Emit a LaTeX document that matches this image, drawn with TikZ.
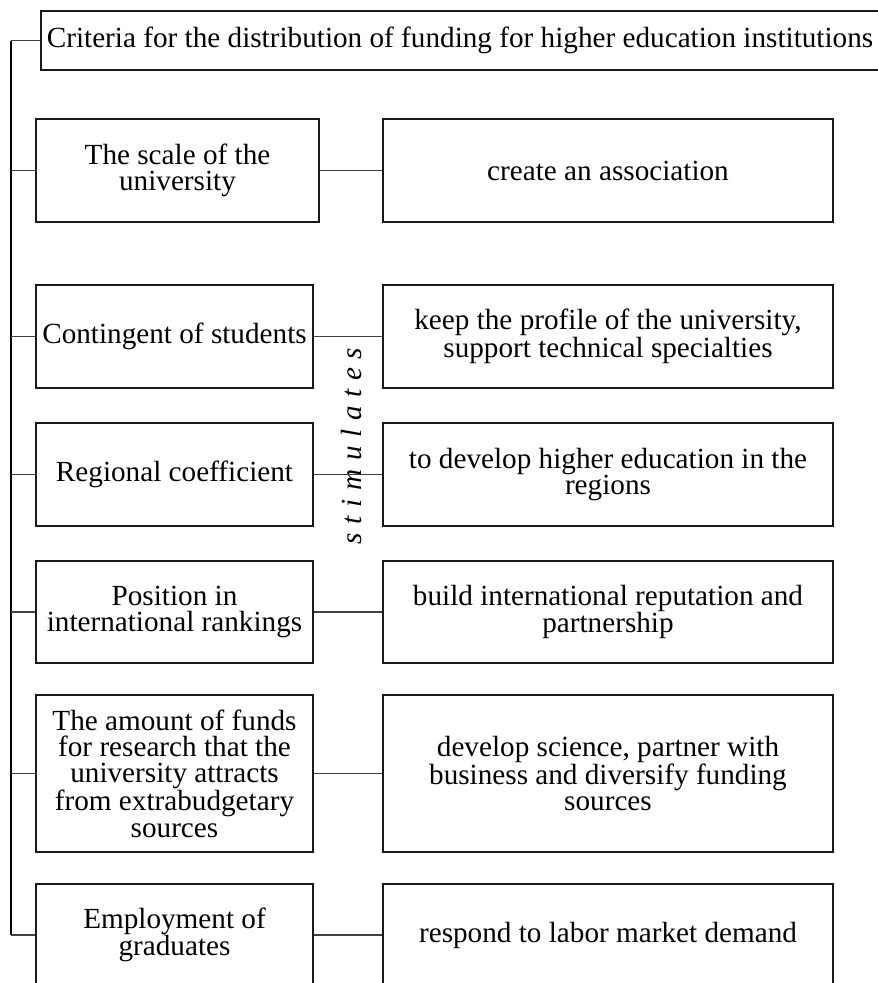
\documentclass[tikz,border=0pt]{standalone}
\usepackage{fontspec}
\setmainfont{Liberation Serif}
\begin{document}
\begin{tikzpicture}[x=1pt, y=-1pt,
  txt/.style={font=\fontsize{29.2}{26.3}\selectfont, align=center, inner sep=0pt},
  box/.style={txt, draw=black!90, line width=1.1pt},
  lbox/.style={box, minimum width=277, minimum height=103},
  rbox/.style={box, minimum width=450, minimum height=103},
  link/.style={draw=black!75, line width=1.1pt},
  spine/.style={draw=black, line width=1.1pt}]
\useasboundingbox (0,0) rectangle (878,983);
\clip (0,0) rectangle (878,983);

% heading
\node[box, minimum width=838, minimum height=59] (top) at (460,40.5)
  {Criteria for the distribution of funding for higher education institutions};

% criteria (left column)
\node[lbox, minimum width=283] (l1) at (177.5,170.5) {The scale of the\\university};
\node[lbox] (l2) at (174.5,336.5) {Contingent of students};
\node[lbox] (l3) at (174.5,474.5) {Regional coefficient};
\node[lbox, minimum height=102] (l4) at (174.5,612) {Position in\\international rankings};
\node[lbox, minimum height=157] (l5) at (174.5,773.5) {The amount of funds\\for research that the\\university attracts\\from extrabudgetary\\sources};
\node[lbox, minimum height=102] (l6) at (174.5,935) {Employment of\\graduates};

% effects (right column)
\node[rbox] (r1) at (608,170.5) {create an association};
\node[rbox] (r2) at (608,336.5) {keep the profile of the university,\\support technical specialties};
\node[rbox] (r3) at (608,474.5) {to develop higher education in the\\regions};
\node[rbox, minimum height=102] (r4) at (608,612) {build international reputation and\\partnership};
\node[rbox, minimum height=157] (r5) at (608,773.5) {develop science, partner with\\business and diversify funding\\sources};
\node[rbox, minimum height=102] (r6) at (608,935) {respond to labor market demand};

% vertical label between the columns
\newcommand{\gapsp}{\ \hspace{1.4pt}}
\node[txt, rotate=90, anchor=base, font=\fontsize{29.2}{26.3}\selectfont\itshape] (stim) at (361,446)
  {s\gapsp t\gapsp i\gapsp m\gapsp u\gapsp l\gapsp a\gapsp t\gapsp e\gapsp s};

% spine on the left
\coordinate (sTop) at (11,40.5);
\coordinate (sBot) at (11,935);
\draw[spine] (sTop) -- (sBot);
\draw[link] (sTop) -- (top.west);
\foreach \i in {1,...,6} {
  \draw[link] (l\i.west -| sTop) -- (l\i.west);
  \draw[link] (l\i.east) -- (r\i.west);
}
\end{tikzpicture}
\end{document}
